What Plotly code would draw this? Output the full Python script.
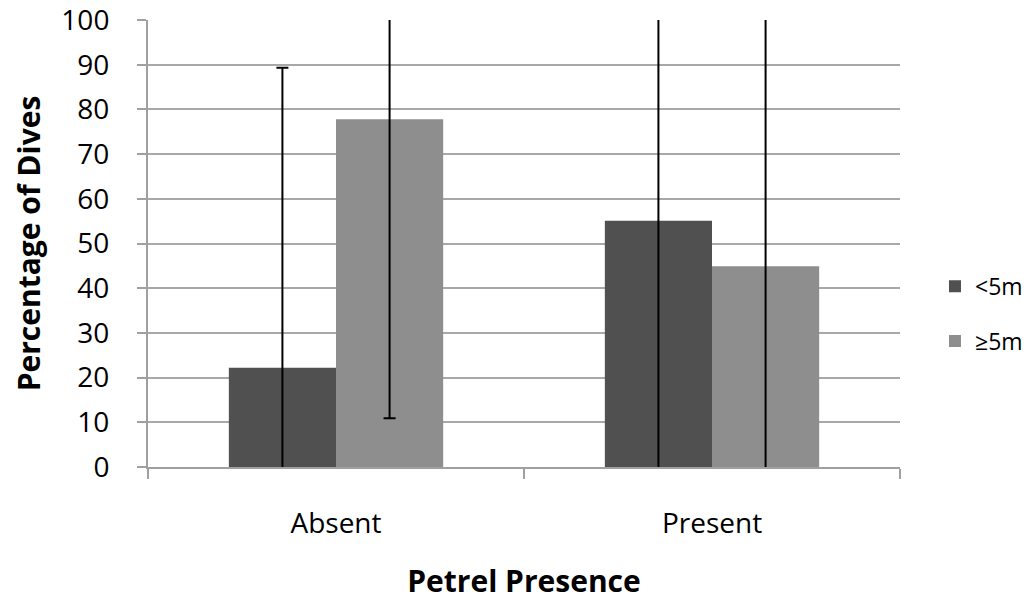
import plotly.graph_objects as go

categories = ["Absent", "Present"]
series_names = ["<5m", "≥5m"]
lt5_values = [22.2, 55.1]
ge5_values = [77.8, 44.9]
lt5_err = [67.1, 62.0]
ge5_err = [66.9, 62.0]
colors = ["#505050", "#8e8e8e"]

FONT = "Open Sans"

fig = go.Figure()
for name, vals, errs, col, grp in [
    (series_names[0], lt5_values, lt5_err, colors[0], "a"),
    (series_names[1], ge5_values, ge5_err, colors[1], "b"),
]:
    fig.add_trace(go.Bar(
        x=categories, y=vals, name=name, legendgroup=grp,
        marker=dict(color=col, line=dict(width=0)),
        error_y=dict(type="data", array=errs, visible=True,
                     color="black", thickness=2, width=6),
    ))

fig.update_layout(
    width=1032, height=601,
    margin=dict(l=148, r=132, t=20, b=134, autoexpand=False),
    paper_bgcolor="white", plot_bgcolor="white",
    barmode="group", bargap=0.43, bargroupgap=0,
    font=dict(family=FONT, size=28, color="black"),
    legend=dict(xref="container", yref="container",
                x=0.906, y=0.478, xanchor="left", yanchor="middle",
                font=dict(size=23), tracegroupgap=22,
                itemwidth=30, bgcolor="rgba(0,0,0,0)"),
    xaxis=dict(
        automargin=False,
        showline=True, linecolor="#a0a0a0", linewidth=2,
        ticks="outside", tickson="boundaries", ticklen=10,
        tickcolor="#a0a0a0", tickwidth=2,
        ticklabelstandoff=30,
        title=dict(text="<b>Petrel Presence</b>", standoff=47,
                   font=dict(size=30)),
    ),
    yaxis=dict(
        automargin=False, ticklabeloverflow="allow",
        range=[0, 100], dtick=10,
        showline=True, linecolor="#a0a0a0", linewidth=2,
        ticks="outside", ticklen=9, tickcolor="#a0a0a0", tickwidth=2,
        showgrid=True, gridcolor="#a8a8a8", gridwidth=2,
        zeroline=False, ticklabelstandoff=22,
        title=dict(text="<b>Percentage of Dives</b>", standoff=12,
                   font=dict(size=30)),
    ),
)

fig.write_html("out.html", config={"displayModeBar": False},
               post_script="document.body.style.margin='0';document.body.style.overflow='hidden';")
